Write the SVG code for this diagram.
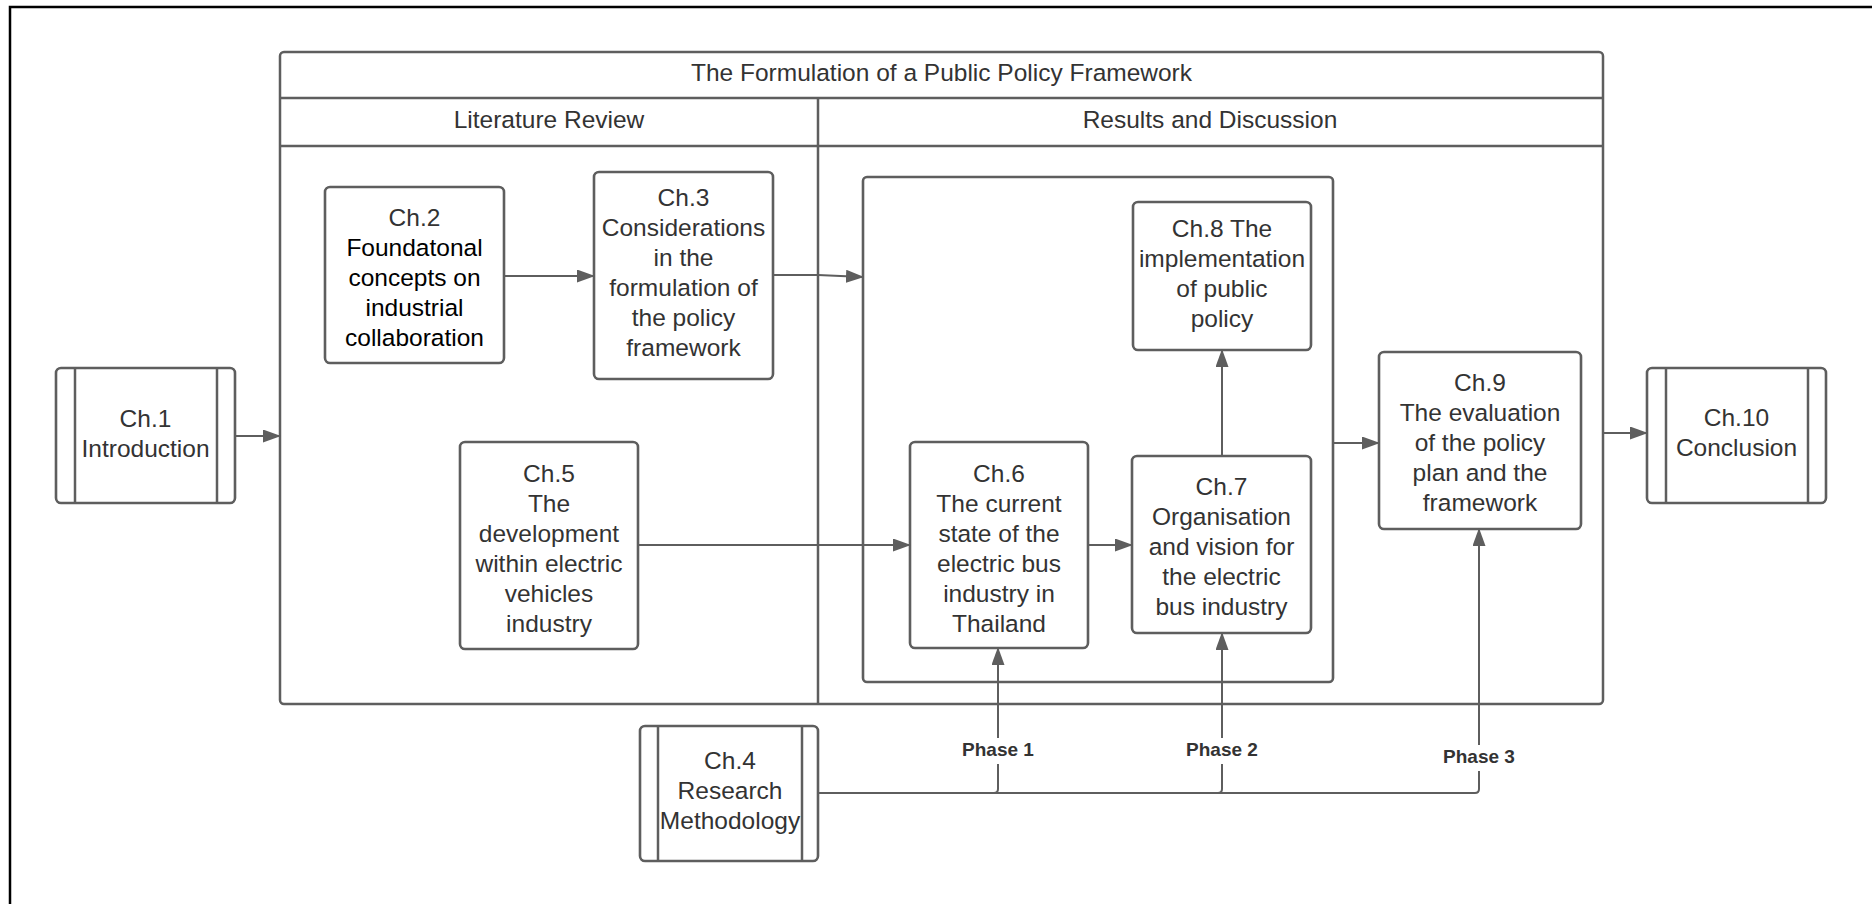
<svg xmlns="http://www.w3.org/2000/svg" width="1872" height="904" viewBox="0 0 1872 904">
  <style>
    .frame { fill: none; stroke: #000; stroke-width: 2.5; }
    .lane { fill: #fff; stroke: #5e5e5e; stroke-width: 2.5; }
    .sep { fill: none; stroke: #5e5e5e; stroke-width: 2.5; }
    .box { fill: #fff; stroke: #5e5e5e; stroke-width: 2.6; }
    .bar { fill: none; stroke: #5e5e5e; stroke-width: 2.5; }
    .conn { fill: none; stroke: #5e5e5e; stroke-width: 2; }
    .lbl { font-family: "Liberation Sans", Arial, sans-serif; font-size: 24.5px; fill: #333; text-anchor: middle; }
    .dark { fill: #000; }
    .phase { font-family: "Liberation Sans", Arial, sans-serif; font-size: 19px; font-weight: bold; fill: #333; text-anchor: middle; }
  </style>
  <defs>
    <marker id="arrow" markerUnits="userSpaceOnUse" markerWidth="18" markerHeight="14" refX="17" refY="6.5" orient="auto">
      <path d="M0,0 L18,6.5 L0,13 z" fill="#5e5e5e"/>
    </marker>
  </defs>

  <rect width="1872" height="904" fill="#fff"/>
  <!-- page frame: top and left edges only -->
  <path class="frame" d="M10,904 V7 H1872"/>

  <!-- swimlane container -->
  <g id="framework">
    <rect class="lane" x="280" y="52" width="1323" height="652" rx="4"/>
    <line class="sep" x1="280" y1="98" x2="1603" y2="98"/>
    <line class="sep" x1="280" y1="146" x2="1603" y2="146"/>
    <line class="sep" x1="818" y1="98" x2="818" y2="704"/>
    <text class="lbl" x="941.5" y="80.5">The Formulation of a Public Policy Framework</text>
    <text class="lbl" x="549" y="127.5">Literature Review</text>
    <text class="lbl" x="1210" y="127.5">Results and Discussion</text>
  </g>

  <g id="results-group">
    <rect class="box" x="863" y="177" width="470" height="505" rx="4"/>
  </g>

  <g id="ch1">
    <rect class="box" x="56" y="368" width="179" height="135" rx="5"/>
    <line class="bar" x1="75" y1="368" x2="75" y2="503"/>
    <line class="bar" x1="217" y1="368" x2="217" y2="503"/>
    <text class="lbl" x="145.5" y="426.5">Ch.1<tspan x="145.5" dy="30">Introduction</tspan></text>
  </g>

  <g id="ch2">
    <rect class="box" x="325" y="187" width="179" height="176" rx="5"/>
    <text class="lbl" x="414.5" y="225.5">Ch.2<tspan class="dark" x="414.5" dy="30">Foundatonal</tspan><tspan class="dark" x="414.5" dy="30">concepts on</tspan><tspan class="dark" x="414.5" dy="30">industrial</tspan><tspan class="dark" x="414.5" dy="30">collaboration</tspan></text>
  </g>

  <g id="ch3">
    <rect class="box" x="594" y="172" width="179" height="207" rx="5"/>
    <text class="lbl" x="683.5" y="206">Ch.3<tspan x="683.5" dy="30">Considerations</tspan><tspan x="683.5" dy="30">in the</tspan><tspan x="683.5" dy="30">formulation of</tspan><tspan x="683.5" dy="30">the policy</tspan><tspan x="683.5" dy="30">framework</tspan></text>
  </g>

  <g id="ch4">
    <rect class="box" x="640" y="726" width="178" height="135" rx="5"/>
    <line class="bar" x1="658" y1="726" x2="658" y2="861"/>
    <line class="bar" x1="802" y1="726" x2="802" y2="861"/>
    <text class="lbl" x="730" y="768.5">Ch.4<tspan x="730" dy="30">Research</tspan><tspan x="730" dy="30">Methodology</tspan></text>
  </g>

  <g id="ch5">
    <rect class="box" x="460" y="442" width="178" height="207" rx="5"/>
    <text class="lbl" x="549" y="481.5">Ch.5<tspan x="549" dy="30">The</tspan><tspan x="549" dy="30">development</tspan><tspan x="549" dy="30">within electric</tspan><tspan x="549" dy="30">vehicles</tspan><tspan x="549" dy="30">industry</tspan></text>
  </g>

  <g id="ch6">
    <rect class="box" x="910" y="442" width="178" height="206" rx="5"/>
    <text class="lbl" x="999" y="481.5">Ch.6<tspan x="999" dy="30">The current</tspan><tspan x="999" dy="30">state of the</tspan><tspan x="999" dy="30">electric bus</tspan><tspan x="999" dy="30">industry in</tspan><tspan x="999" dy="30">Thailand</tspan></text>
  </g>

  <g id="ch7">
    <rect class="box" x="1132" y="456" width="179" height="177" rx="5"/>
    <text class="lbl" x="1221.5" y="494.5">Ch.7<tspan x="1221.5" dy="30">Organisation</tspan><tspan x="1221.5" dy="30">and vision for</tspan><tspan x="1221.5" dy="30">the electric</tspan><tspan x="1221.5" dy="30">bus industry</tspan></text>
  </g>

  <g id="ch8">
    <rect class="box" x="1133" y="202" width="178" height="148" rx="5"/>
    <text class="lbl" x="1222" y="236.5">Ch.8 The<tspan x="1222" dy="30">implementation</tspan><tspan x="1222" dy="30">of public</tspan><tspan x="1222" dy="30">policy</tspan></text>
  </g>

  <g id="ch9">
    <rect class="box" x="1379" y="352" width="202" height="177" rx="5"/>
    <text class="lbl" x="1480" y="390.5">Ch.9<tspan x="1480" dy="30">The evaluation</tspan><tspan x="1480" dy="30">of the policy</tspan><tspan x="1480" dy="30">plan and the</tspan><tspan x="1480" dy="30">framework</tspan></text>
  </g>

  <g id="ch10">
    <rect class="box" x="1647" y="368" width="179" height="135" rx="5"/>
    <line class="bar" x1="1666" y1="368" x2="1666" y2="503"/>
    <line class="bar" x1="1808" y1="368" x2="1808" y2="503"/>
    <text class="lbl" x="1736.5" y="425.5">Ch.10<tspan x="1736.5" dy="30">Conclusion</tspan></text>
  </g>

  <g id="connectors">
    <line class="conn" x1="235" y1="436" x2="280" y2="436" marker-end="url(#arrow)"/>
    <line class="conn" x1="504" y1="276" x2="594" y2="276" marker-end="url(#arrow)"/>
    <path class="conn" d="M773,275 H818 L863,277" marker-end="url(#arrow)"/>
    <line class="conn" x1="638" y1="545" x2="910" y2="545" marker-end="url(#arrow)"/>
    <line class="conn" x1="1088" y1="545" x2="1132" y2="545" marker-end="url(#arrow)"/>
    <line class="conn" x1="1222" y1="456" x2="1222" y2="350" marker-end="url(#arrow)"/>
    <line class="conn" x1="1333" y1="443" x2="1379" y2="443" marker-end="url(#arrow)"/>
    <line class="conn" x1="1603" y1="433" x2="1647" y2="433" marker-end="url(#arrow)"/>
    <!-- research methodology feeds each phase -->
    <path class="conn" d="M818,793 H994 Q998,793 998,789 V764"/>
    <path class="conn" d="M998,738 V648" marker-end="url(#arrow)"/>
    <path class="conn" d="M994,793 H1218 Q1222,793 1222,789 V764"/>
    <path class="conn" d="M1222,738 V633" marker-end="url(#arrow)"/>
    <path class="conn" d="M1218,793 H1475 Q1479,793 1479,789 V771"/>
    <path class="conn" d="M1479,745 V529" marker-end="url(#arrow)"/>
    <text class="phase" x="998" y="755.5">Phase 1</text>
    <text class="phase" x="1222" y="755.5">Phase 2</text>
    <text class="phase" x="1479" y="762.5">Phase 3</text>
  </g>
</svg>
